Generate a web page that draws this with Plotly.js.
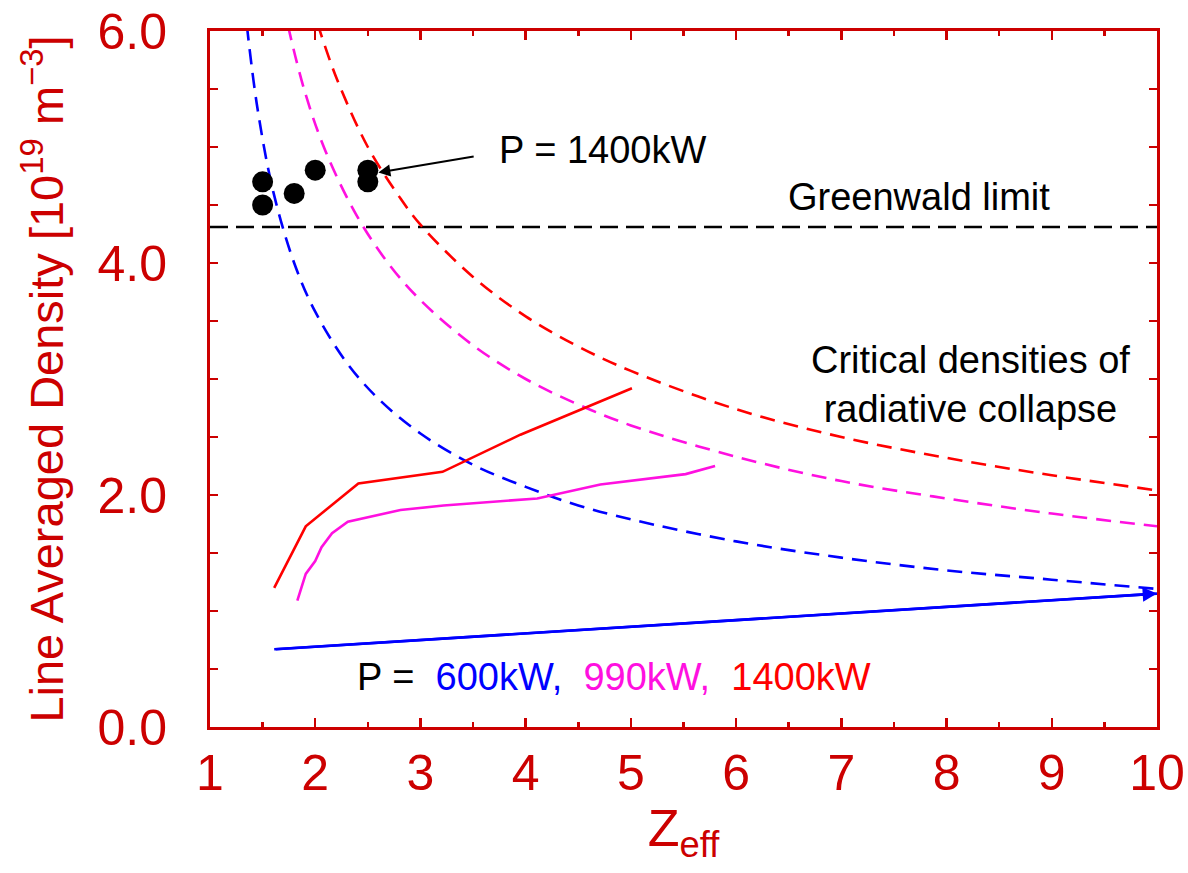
<!DOCTYPE html>
<html>
<head>
<meta charset="utf-8">
<script src="https://cdn.plot.ly/plotly-3.0.1.min.js"></script>
<style>html,body{margin:0;padding:0;background:#fff;}</style>
</head>
<body>
<div id="chart" style="width:1188px;height:873px;"></div>
<script>
// Critical density curves (dashed)
const crit600X  = [1.35, 1.45, 1.6, 1.8, 2.0, 2.3, 2.6, 3.0, 3.5, 4.0, 4.5, 5.0, 6.0, 7.0, 8.0, 9.0, 10.0];
const crit600Y  = [6.05, 5.34, 4.62, 4.00, 3.58, 3.14, 2.83, 2.53, 2.26, 2.07, 1.91, 1.79, 1.60, 1.46, 1.35, 1.27, 1.19];
const crit990X  = [1.74, 1.9, 2.1, 2.4, 2.7, 3.0, 3.5, 4.0, 4.5, 5.0, 6.0, 7.0, 8.0, 9.0, 10.0];
const crit990Y  = [6.05, 5.48, 4.96, 4.40, 3.99, 3.68, 3.29, 3.00, 2.78, 2.60, 2.33, 2.12, 1.97, 1.84, 1.73];
const crit1400X = [2.02, 2.2, 2.5, 2.8, 3.0, 3.5, 4.0, 4.5, 5.0, 6.0, 7.0, 8.0, 9.0, 10.0];
const crit1400Y = [6.07, 5.60, 5.00, 4.57, 4.33, 3.88, 3.54, 3.28, 3.07, 2.74, 2.50, 2.32, 2.17, 2.04];

// Experimental trajectories (solid)
const exp600X  = [1.61, 10.0];
const exp600Y  = [0.67, 1.15];
const exp990X  = [1.83, 1.91, 2.0, 2.06, 2.16, 2.31, 2.81, 3.22, 4.11, 4.71, 5.52, 5.80];
const exp990Y  = [1.09, 1.32, 1.43, 1.55, 1.67, 1.77, 1.87, 1.91, 1.97, 2.09, 2.18, 2.25];
const exp1400X = [1.61, 1.91, 2.41, 3.21, 3.95, 5.01];
const exp1400Y = [1.20, 1.73, 2.10, 2.20, 2.52, 2.92];

// Measured points P = 1400 kW
const dotsX = [1.5, 1.5, 1.8, 2.0, 2.5, 2.5];
const dotsY = [4.7, 4.5, 4.6, 4.8, 4.8, 4.7];

// Greenwald limit
const greenwaldX = [1, 10];
const greenwaldY = [4.31, 4.31];

const xTickVals = [1, 2, 3, 4, 5, 6, 7, 8, 9, 10];
const yTickVals = [0, 2, 4, 6];
const yTickText = ['0.0', '2.0', '4.0', '6.0'];

const AXC = '#cc0000';
const RED = '#ff0000', MAG = '#ff10e0', BLUE = '#0000ff';
const FONT = 'Liberation Sans, Arial, sans-serif';

const traces = [
  {x: greenwaldX, y: greenwaldY, mode: 'lines', line: {color: '#000', width: 2.4, dash: '18px,8px'}},
  {x: crit600X, y: crit600Y, mode: 'lines', line: {color: BLUE, width: 2.6, dash: '15px,9px', shape: 'spline'}},
  {x: crit990X, y: crit990Y, mode: 'lines', line: {color: MAG, width: 2.6, dash: '15px,9px', shape: 'spline'}},
  {x: crit1400X, y: crit1400Y, mode: 'lines', line: {color: RED, width: 2.6, dash: '15px,9px', shape: 'spline'}},
  {x: exp600X, y: exp600Y, mode: 'lines', line: {color: BLUE, width: 2.6}},
  {x: exp990X, y: exp990Y, mode: 'lines', line: {color: MAG, width: 2.6}},
  {x: exp1400X, y: exp1400Y, mode: 'lines', line: {color: RED, width: 2.6}},
  {x: dotsX, y: dotsY, mode: 'markers', marker: {color: '#000', size: 21}}
];

const n6 = exp600X.length;
const layout = {
  width: 1188, height: 873,
  margin: {l: 210, r: 31, t: 31, b: 146},
  paper_bgcolor: '#fff', plot_bgcolor: '#fff',
  showlegend: false,
  font: {family: FONT, color: AXC},
  xaxis: {
    range: [1, 10], tickvals: xTickVals, ticks: 'inside', ticklen: 9, tickwidth: 2.5, tickcolor: AXC,
    minor: {dtick: 0.5, ticks: 'inside', ticklen: 5, tickwidth: 2.5, tickcolor: AXC},
    showline: true, linecolor: AXC, linewidth: 3, mirror: 'ticks', showgrid: false, zeroline: false,
    tickfont: {size: 50, color: AXC, family: FONT}, ticklabelstandoff: 0,
    title: {text: 'Z<sub>eff</sub>', font: {size: 52, color: AXC, family: FONT}, standoff: 10}
  },
  yaxis: {
    range: [0, 6], tickvals: yTickVals, ticktext: yTickText, ticks: 'inside', ticklen: 8, tickwidth: 2.5, tickcolor: AXC,
    minor: {dtick: 0.5, ticks: 'inside', ticklen: 8, tickwidth: 2.5, tickcolor: AXC},
    showline: true, linecolor: AXC, linewidth: 3, mirror: 'ticks', showgrid: false, zeroline: false,
    tickfont: {size: 50, color: AXC, family: FONT}, ticklabelstandoff: 30,
    title: {text: 'Line Averaged Density [10<sup>19</sup> m<sup>\u22123</sup>]', font: {size: 47, color: AXC, family: FONT}, standoff: 20}
  },
  annotations: [
    {x: 3.73, y: 4.97, xref: 'x', yref: 'y', xanchor: 'left', yanchor: 'middle', showarrow: false,
     text: 'P = 1400kW', font: {size: 38, color: '#000', family: FONT}},
    {x: 2.60, y: 4.78, ax: 3.52, ay: 4.92, xref: 'x', yref: 'y', axref: 'x', ayref: 'y', text: '',
     showarrow: true, arrowhead: 2, arrowsize: 1.2, arrowwidth: 2, arrowcolor: '#000', standoff: 0},
    {x: 6.47, y: 4.57, xref: 'x', yref: 'y', xanchor: 'left', yanchor: 'middle', showarrow: false,
     text: 'Greenwald limit', font: {size: 38, color: '#000', family: FONT}},
    {x: 8.23, y: 2.95, xref: 'x', yref: 'y', xanchor: 'center', yanchor: 'middle', align: 'center', showarrow: false,
     text: 'Critical densities of<br>radiative collapse', font: {size: 38, color: '#000', family: FONT}},
    {x: 2.38, y: 0.43, xref: 'x', yref: 'y', xanchor: 'left', yanchor: 'middle', showarrow: false,
     text: 'P =&nbsp; <span style="color:' + BLUE + '">600kW,</span>&nbsp; <span style="color:' + MAG + '">990kW,</span>&nbsp; <span style="color:' + RED + '">1400kW</span>',
     font: {size: 38, color: '#000', family: FONT}},
    {x: exp600X[n6 - 1], y: exp600Y[n6 - 1], ax: exp600X[0], ay: exp600Y[0], xref: 'x', yref: 'y', axref: 'x', ayref: 'y',
     text: '', showarrow: true, arrowhead: 2, arrowsize: 1.1, arrowwidth: 2.6, arrowcolor: BLUE, standoff: 0}
  ]
};

Plotly.newPlot('chart', traces, layout, {displayModeBar: false, staticPlot: true});
</script>
</body>
</html>
